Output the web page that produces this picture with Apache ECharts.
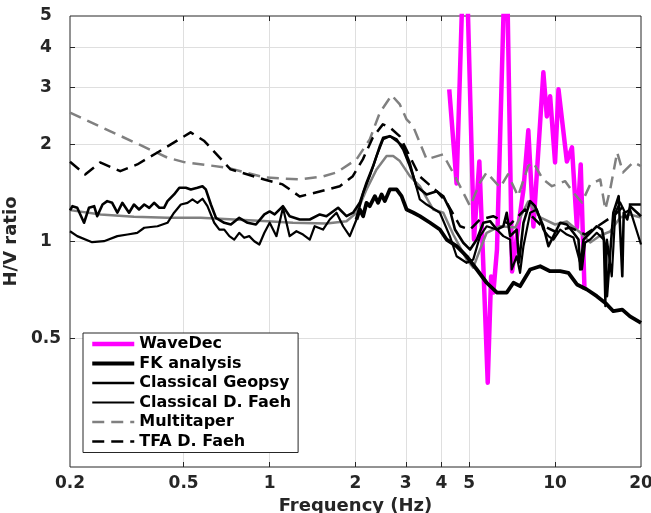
<!DOCTYPE html>
<html>
<head>
<meta charset="utf-8">
<script src="https://cdn.jsdelivr.net/npm/echarts@6/dist/echarts.min.js"></script>
<style>
  html, body { margin: 0; padding: 0; background: #ffffff; }
  #chart { width: 651px; height: 513px; position: absolute; left: 0; top: 0; }
</style>
</head>
<body>
<div id="chart"></div>
<script>
// Axis ticks (Hz and H/V ratio)
const xTickLabels = [0.2, 0.5, 1, 2, 3, 4, 5, 10, 20];
const xTickMarks = [0.5, 1, 2, 3, 4, 5, 10];
const yTickLabels = [0.5, 1, 2, 3, 4, 5];
const yTickMarks = [0.5, 1, 2, 3, 4];

// WaveDec
const waveDecFreq = [4.26, 4.52, 4.84, 5.20, 5.43, 5.64, 5.81, 5.97, 6.08, 6.26,
                     6.74, 7.07, 7.75, 8.06, 8.40, 9.10, 9.36, 9.61, 10.0, 10.28,
                     11.0, 11.46, 11.93, 12.3, 12.68];
const waveDecHV = [2.962, 1.513, 11, 1.014, 1.771, 0.736, 0.365, 0.779, 0.695, 0.944,
                   10, 0.807, 1.45, 2.211, 1.113, 3.344, 2.442, 2.818, 1.758, 2.962,
                   1.771, 1.957, 1.105, 1.733, 0.710];

// FK analysis
const fkFreq = [2.016, 2.07, 2.127, 2.186, 2.244, 2.338, 2.40, 2.468, 2.534, 2.638,
                2.786, 2.90, 3.02, 3.18, 3.36, 3.65, 3.95, 4.17, 4.52, 4.90,
                5.32, 5.76, 6.25, 6.77, 7.15, 7.54, 8.18, 8.87, 9.61, 10.42,
                11.14, 11.93, 12.93, 14.0, 15.0, 16.0, 17.2, 18.3, 20];
const fkHV = [1.170, 1.257, 1.198, 1.318, 1.287, 1.382, 1.318, 1.399, 1.334, 1.45,
              1.45, 1.382, 1.257, 1.23, 1.198, 1.143, 1.089, 1.014, 0.967, 0.900,
              0.819, 0.745, 0.695, 0.694, 0.745, 0.727, 0.819, 0.838, 0.809, 0.809,
              0.800, 0.736, 0.710, 0.677, 0.645, 0.608, 0.615, 0.586, 0.559];

// Classical Geopsy
const geopsyFreq = [0.200, 0.204, 0.212, 0.224, 0.233, 0.243, 0.249, 0.260, 0.270, 0.281,
                    0.293, 0.305, 0.322, 0.335, 0.349, 0.364, 0.379, 0.394, 0.411, 0.427,
                    0.439, 0.463, 0.483, 0.509, 0.530, 0.559, 0.582, 0.598, 0.623, 0.649,
                    0.694, 0.732, 0.783, 0.838, 0.896, 0.959, 1.001, 1.042, 1.114, 1.176,
                    1.275, 1.383, 1.499, 1.582, 1.738, 1.860, 1.962, 2.070, 2.186, 2.306,
                    2.434, 2.500, 2.638, 2.786, 2.940, 3.100, 3.270, 3.550, 3.850, 4.060,
                    4.280, 4.460, 4.770, 5.040, 5.320, 5.610, 5.920, 6.250, 6.590, 6.770,
                    6.960, 7.340, 7.480, 7.750, 8.180, 8.510, 9.100, 9.480, 9.870, 10.42,
                    11.00, 11.60, 12.08, 12.25, 12.58, 13.28, 14.00, 14.60, 15.00, 15.20,
                    15.60, 16.00, 16.70, 17.20, 17.40, 17.90, 18.30, 19.40, 20.00];
const geopsyHV = [1.248, 1.287, 1.272, 1.143, 1.272, 1.287, 1.198, 1.302, 1.334, 1.318,
                  1.228, 1.318, 1.228, 1.302, 1.257, 1.302, 1.272, 1.318, 1.272, 1.272,
                  1.334, 1.399, 1.468, 1.468, 1.450, 1.468, 1.484, 1.450, 1.302, 1.184,
                  1.143, 1.129, 1.184, 1.143, 1.129, 1.213, 1.239, 1.213, 1.287, 1.198,
                  1.170, 1.170, 1.213, 1.198, 1.272, 1.198, 1.228, 1.318, 1.521, 1.713,
                  1.975, 2.097, 2.121, 2.073, 1.929, 1.713, 1.484, 1.399, 1.432, 1.382,
                  1.257, 1.089, 0.991, 0.944, 1.014, 1.143, 1.156, 1.089, 1.115, 1.228,
                  1.039, 1.089, 0.861, 1.143, 1.334, 1.287, 1.115, 0.967, 1.039, 1.143,
                  1.129, 1.064, 1.014, 0.819, 1.014, 1.064, 1.115, 1.089, 0.967, 0.677,
                  0.922, 1.228, 1.382, 0.780, 1.228, 1.170, 1.287, 1.228, 1.198];

// Classical D. Faeh
const faehFreq = [0.200, 0.212, 0.239, 0.263, 0.293, 0.318, 0.344, 0.364, 0.405, 0.439,
                  0.463, 0.489, 0.516, 0.537, 0.559, 0.582, 0.606, 0.640, 0.667, 0.694,
                  0.723, 0.752, 0.783, 0.815, 0.849, 0.884, 0.921, 0.959, 1.001, 1.057,
                  1.114, 1.176, 1.242, 1.310, 1.383, 1.439, 1.539, 1.625, 1.716, 1.810,
                  1.910, 2.016, 2.127, 2.244, 2.370, 2.500, 2.638, 2.786, 2.940, 3.100,
                  3.360, 3.550, 3.950, 4.280, 4.520, 4.900, 5.170, 5.460, 5.760, 6.250,
                  6.590, 6.960, 7.050, 7.340, 7.540, 7.750, 8.180, 8.630, 9.100, 9.480,
                  9.870, 10.42, 11.00, 11.60, 12.42, 12.75, 13.28, 14.00, 14.80, 15.00,
                  15.20, 15.80, 16.25, 16.90, 17.60, 18.30, 20.00];
const faehHV = [1.076, 1.039, 0.995, 1.002, 1.039, 1.051, 1.064, 1.103, 1.115, 1.143,
                1.228, 1.302, 1.318, 1.350, 1.318, 1.357, 1.287, 1.143, 1.089, 1.089,
                1.039, 1.014, 1.064, 1.027, 1.039, 1.002, 0.979, 1.064, 1.143, 1.039,
                1.272, 1.039, 1.076, 1.051, 1.014, 1.115, 1.089, 1.170, 1.228, 1.115,
                1.039, 1.170, 1.416, 1.594, 1.840, 2.073, 2.121, 2.048, 1.975, 1.754,
                1.350, 1.302, 1.228, 1.039, 0.900, 0.859, 0.880, 1.039, 1.115, 1.089,
                1.039, 1.014, 0.819, 0.900, 0.800, 0.967, 1.228, 1.257, 1.089, 1.039,
                1.014, 1.089, 1.051, 1.029, 0.819, 0.993, 1.014, 1.064, 1.014, 0.630,
                1.014, 0.780, 1.228, 1.321, 1.228, 1.257, 0.979];

// Multitaper
const multitaperFreq = [0.2, 0.439, 0.502, 0.713, 0.959, 1.275, 1.536, 1.716, 2.016, 2.244,
                        2.434, 2.676, 2.86, 3.02, 3.18, 3.55, 4.05, 4.39, 5.04, 5.46,
                        5.76, 6.42, 6.84, 7.42, 8.05, 8.38, 9.08, 9.75, 10.85, 11.57,
                        12.42, 13.28, 14.4, 15.0, 15.6, 16.5, 17.3, 18.8, 20];
const multitaperHV = [2.51, 1.819, 1.762, 1.693, 1.58, 1.557, 1.59, 1.637, 1.797, 2.073,
                      2.51, 2.84, 2.66, 2.39, 2.28, 1.797, 1.862, 1.637, 1.287, 1.524,
                      1.637, 1.471, 1.614, 1.382, 1.713, 1.76, 1.557, 1.484, 1.538, 1.419,
                      1.321, 1.503, 1.557, 1.257, 1.45, 1.888, 1.637, 1.76, 1.713];

// TFA D. Faeh
const tfaFreq = [0.2, 0.226, 0.255, 0.300, 0.344, 0.405, 0.529, 0.591, 0.730, 0.959,
                 1.111, 1.275, 1.499, 1.762, 1.957, 2.122, 2.30, 2.494, 2.638, 2.86,
                 3.36, 3.85, 4.17, 4.65, 5.04, 5.46, 6.07, 6.96, 7.85, 8.87,
                 10.0, 11.3, 12.75, 14.4, 16.25, 17.6, 20];
const tfaHV = [1.767, 1.614, 1.758, 1.652, 1.733, 1.888, 2.179, 2.048, 1.673, 1.557,
               1.503, 1.379, 1.429, 1.484, 1.594, 1.797, 2.102, 2.307, 2.258, 2.118,
               1.59, 1.432, 1.321, 1.115, 1.089, 1.17, 1.198, 1.129, 1.257, 1.129,
               1.074, 1.105, 1.051, 1.129, 1.213, 1.302, 1.302];

// Smooth grey average curve (not listed in the legend)
const averageFreq = [0.2, 0.256, 0.335, 0.439, 0.574, 0.752, 0.985, 1.208, 1.582, 1.860,
                     2.016, 2.186, 2.37, 2.57, 2.71, 2.86, 3.10, 3.36, 3.74, 4.06,
                     4.40, 4.90, 5.17, 5.46, 5.76, 6.42, 7.25, 8.05, 8.87, 10.0,
                     11.0, 12.25, 13.28, 14.4, 15.6, 16.9, 18.3, 20];
const averageHV = [1.251, 1.213, 1.193, 1.184, 1.184, 1.170, 1.156, 1.143, 1.137, 1.156,
                   1.228, 1.45, 1.673, 1.84, 1.84, 1.775, 1.594, 1.484, 1.257, 1.228,
                   1.051, 0.88, 0.830, 0.944, 1.064, 1.115, 1.105, 1.331, 1.187, 1.129,
                   1.154, 1.066, 0.993, 1.044, 1.074, 1.187, 1.213, 1.187];

// Both axes are logarithmic: values are plotted as log10 on value axes.
const log10 = Math.log10;
const FONT = 'DejaVu Sans';
const INK = '#262626';
const GRID_COLOR = '#dfdfdf';

const X_MIN = log10(0.2), X_MAX = log10(20);
const Y_MIN = log10(0.2), Y_MAX = log10(5);

function toPoints(freqs, ratios) {
  return freqs.map((f, i) => [log10(f), log10(ratios[i])]);
}

function tickText(list, v) {
  const t = list.find(t => Math.abs(log10(t) - v) < 1e-6);
  return t === undefined ? '' : String(t);
}

function lineSeries(name, freqs, ratios, lineStyle) {
  return {
    type: 'line',
    name: name,
    data: toPoints(freqs, ratios),
    showSymbol: false,
    symbol: 'none',
    silent: true,
    lineStyle: Object.assign({ cap: 'butt', join: 'round' }, lineStyle)
  };
}

// Inward tick marks only, used for the mirrored top and right axes
function mirrorAxis(position, min, max, marks) {
  return {
    type: 'value', position: position, min: min, max: max,
    axisLine: { show: false, onZero: false },
    axisTick: { show: true, inside: true, length: 5, lineStyle: { color: INK, width: 1 },
                customValues: marks.map(log10) },
    axisLabel: { show: false },
    splitLine: { show: false }
  };
}

function buildOption() {
  return {
    animation: false,
    backgroundColor: '#ffffff',
    textStyle: { fontFamily: FONT },
    grid: {
      left: 70, right: 10, top: 16, bottom: 46,
      show: true, backgroundColor: '#ffffff',
      borderColor: INK, borderWidth: 1,
      containLabel: false, outerBoundsMode: 'none'
    },
    xAxis: [{
      type: 'value', position: 'bottom', min: X_MIN, max: X_MAX,
      name: 'Frequency (Hz)', nameLocation: 'middle', nameGap: 28,
      nameTextStyle: { fontFamily: FONT, fontWeight: 'bold', fontSize: 18, color: INK },
      axisLine: { show: false, onZero: false },
      axisTick: { show: true, inside: true, length: 5, lineStyle: { color: INK, width: 1 },
                  customValues: xTickMarks.map(log10) },
      axisLabel: {
        customValues: xTickLabels.map(log10), margin: 8,
        fontFamily: FONT, fontWeight: 'bold', fontSize: 17, color: INK,
        formatter: v => tickText(xTickLabels, v)
      },
      splitLine: { show: true, lineStyle: { color: GRID_COLOR, width: 1 } }
    }, mirrorAxis('top', X_MIN, X_MAX, xTickMarks)],
    yAxis: [{
      type: 'value', position: 'left', min: Y_MIN, max: Y_MAX,
      name: 'H/V ratio', nameLocation: 'middle', nameGap: 42, nameRotate: 90,
      nameTextStyle: { fontFamily: FONT, fontWeight: 'bold', fontSize: 18, color: INK },
      axisLine: { show: false, onZero: false },
      axisTick: { show: true, inside: true, length: 5, lineStyle: { color: INK, width: 1 },
                  customValues: yTickMarks.map(log10) },
      axisLabel: {
        customValues: yTickLabels.map(log10), margin: 24, align: 'center',
        fontFamily: FONT, fontWeight: 'bold', fontSize: 17, color: INK,
        formatter: v => tickText(yTickLabels, v)
      },
      splitLine: { show: true, lineStyle: { color: GRID_COLOR, width: 1 } }
    }, mirrorAxis('right', Y_MIN, Y_MAX, yTickMarks)],
    legend: {
      orient: 'vertical', left: 83, top: 333,
      data: ['WaveDec', 'FK analysis', 'Classical Geopsy', 'Classical D. Faeh', 'Multitaper', 'TFA D. Faeh'],
      backgroundColor: '#ffffff', borderColor: INK, borderWidth: 1, borderRadius: 0,
      padding: [3, 7, 3, 7], itemGap: 3.5, itemWidth: 42, itemHeight: 14,
      selectedMode: false,
      itemStyle: { opacity: 0 },
      lineStyle: { width: 'inherit' },
      textStyle: { fontFamily: FONT, fontWeight: 'bold', fontSize: 16, color: '#000000' }
    },
    series: [
      lineSeries('WaveDec', waveDecFreq, waveDecHV, { color: '#ff00ff', width: 4.5 }),
      lineSeries('Average', averageFreq, averageHV, { color: '#808080', width: 2.5 }),
      lineSeries('FK analysis', fkFreq, fkHV, { color: '#000000', width: 3.8 }),
      lineSeries('Classical Geopsy', geopsyFreq, geopsyHV, { color: '#000000', width: 2.6 }),
      lineSeries('Classical D. Faeh', faehFreq, faehHV, { color: '#000000', width: 2.2 }),
      lineSeries('Multitaper', multitaperFreq, multitaperHV, { color: '#808080', width: 2.5, type: [12, 7] }),
      lineSeries('TFA D. Faeh', tfaFreq, tfaHV, { color: '#000000', width: 2.5, type: [12, 7] })
    ]
  };
}

const chart = echarts.init(document.getElementById('chart'));
chart.setOption(buildOption());
chart.resize();
// Paint synchronously so the finished frame is on the canvas right away
chart.getZr().flush();
</script>
</body>
</html>
